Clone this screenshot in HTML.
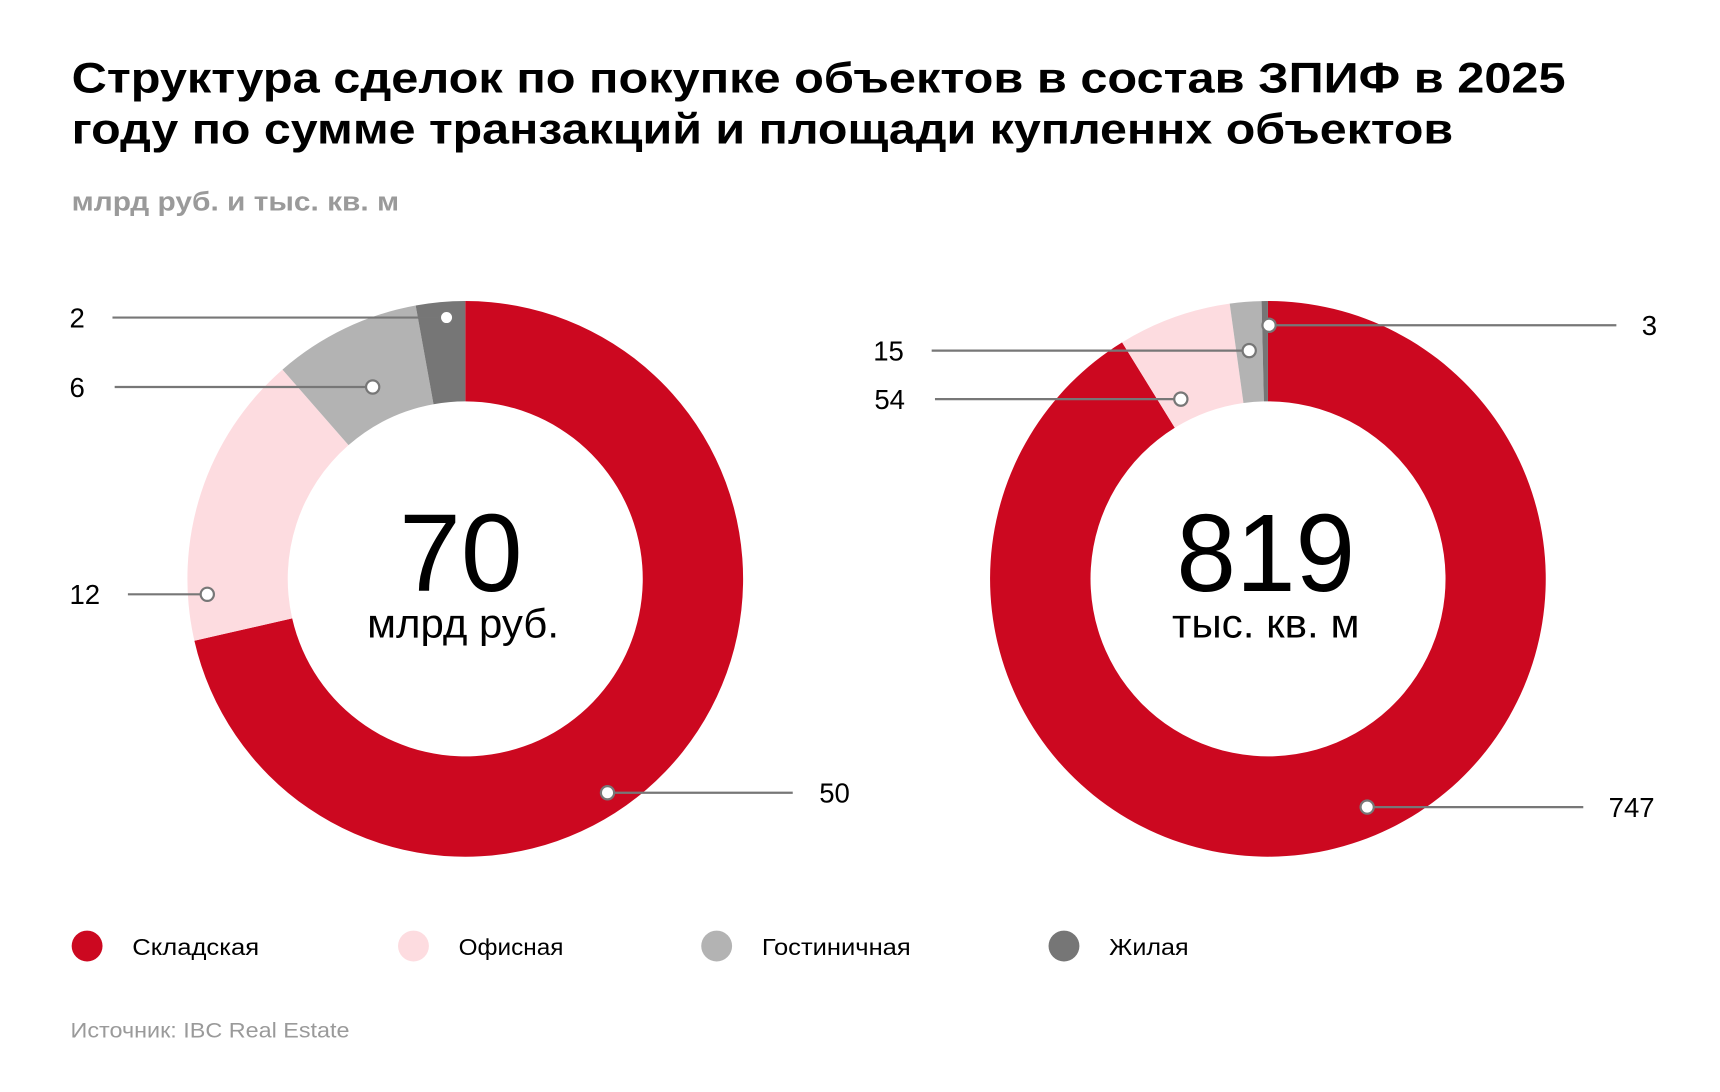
<!DOCTYPE html>
<html><head><meta charset="utf-8"><style>
html,body{margin:0;padding:0;background:#fff;}
svg{display:block;}
text{font-family:"Liberation Sans","Noto Sans CJK SC",sans-serif;}
</style></head><body>
<svg width="1720" height="1092" viewBox="0 0 1560 990.4" xmlns="http://www.w3.org/2000/svg">
<rect width="1560" height="990.4" fill="#fff"/>
<text x="65" y="84" font-size="39" font-weight="bold" fill="#000" textLength="1355" lengthAdjust="spacingAndGlyphs">Структура сделок по покупке объектов в состав ЗПИФ в 2025</text>
<text x="65" y="130" font-size="39" font-weight="bold" fill="#000" textLength="1253" lengthAdjust="spacingAndGlyphs">году по сумме транзакций и площади купленнх объектов</text>
<text x="65" y="191" font-size="24" font-weight="bold" fill="#9a9a9a" textLength="297" lengthAdjust="spacingAndGlyphs">млрд руб. и тыс. кв. м</text>

<path d="M422,273 A252,252 0 1 1 176.3,581.1 L265.0,560.8 A161,161 0 1 0 422,364 Z" fill="#CC0820"/>
<path d="M176.3,581.1 A252,252 0 0 1 256.2,335.2 L316.1,403.7 A161,161 0 0 0 265.0,560.8 Z" fill="#FDDCE0"/>
<path d="M256.2,335.2 A252,252 0 0 1 377.0,277.1 L393.2,366.6 A161,161 0 0 0 316.1,403.7 Z" fill="#B3B3B3"/>
<path d="M377.0,277.1 A252,252 0 0 1 422,273 L422,364 A161,161 0 0 0 393.2,366.6 Z" fill="#767676"/>

<path d="M1150,273 A252,252 0 1 1 1017.7,310.5 L1065.5,388.0 A161,161 0 1 0 1150,364 Z" fill="#CC0820"/>
<path d="M1017.7,310.5 A252,252 0 0 1 1115.3,275.4 L1127.8,365.5 A161,161 0 0 0 1065.5,388.0 Z" fill="#FDDCE0"/>
<path d="M1115.3,275.4 A252,252 0 0 1 1144.2,273.1 L1146.3,364.0 A161,161 0 0 0 1127.8,365.5 Z" fill="#B3B3B3"/>
<path d="M1144.2,273.1 A252,252 0 0 1 1150,273 L1150,364 A161,161 0 0 0 1146.3,364.0 Z" fill="#767676"/>

<g stroke="#777" stroke-width="2" fill="none">
<line x1="102" y1="288" x2="405" y2="288"/>
<line x1="104" y1="351" x2="338" y2="351"/>
<line x1="116" y1="539" x2="188" y2="539"/>
<line x1="551" y1="719" x2="719" y2="719"/>
<line x1="1151" y1="295" x2="1466" y2="295"/>
<line x1="845" y1="318" x2="1133" y2="318"/>
<line x1="848" y1="362" x2="1071" y2="362"/>
<line x1="1240" y1="732" x2="1436" y2="732"/>
</g>
<g fill="#fff" stroke="#777" stroke-width="2">
<circle cx="405" cy="288" r="6"/>
<circle cx="338" cy="351" r="6"/>
<circle cx="188" cy="539" r="6"/>
<circle cx="551" cy="719" r="6"/>
<circle cx="1151" cy="295" r="6"/>
<circle cx="1133" cy="318" r="6"/>
<circle cx="1071" cy="362" r="6"/>
<circle cx="1240" cy="732" r="6"/>
</g>
<g font-size="25" fill="#000">
<text x="63" y="297">2</text>
<text x="63" y="360">6</text>
<text x="63" y="548">12</text>
<text x="743" y="728">50</text>
<text x="1489" y="304">3</text>
<text x="792" y="327">15</text>
<text x="793" y="371">54</text>
<text x="1459" y="741">747</text>
</g>

<text x="418" y="536" font-size="100" text-anchor="middle" fill="#000" textLength="112" lengthAdjust="spacingAndGlyphs">70</text>
<text x="420" y="578" font-size="37" text-anchor="middle" fill="#000" textLength="174" lengthAdjust="spacingAndGlyphs">млрд руб.</text>
<text x="1148" y="536" font-size="100" text-anchor="middle" fill="#000" textLength="162" lengthAdjust="spacingAndGlyphs">819</text>
<text x="1148" y="578" font-size="37" text-anchor="middle" fill="#000" textLength="170" lengthAdjust="spacingAndGlyphs">тыс. кв. м</text>

<circle cx="79" cy="858" r="14" fill="#CC0820"/>
<circle cx="375" cy="858" r="14" fill="#FDDCE0"/>
<circle cx="650" cy="858" r="14" fill="#B3B3B3"/>
<circle cx="965" cy="858" r="14" fill="#767676"/>
<g font-size="21" fill="#000">
<text x="120" y="866" textLength="115" lengthAdjust="spacingAndGlyphs">Складская</text>
<text x="416" y="866" textLength="95" lengthAdjust="spacingAndGlyphs">Офисная</text>
<text x="691" y="866" textLength="135" lengthAdjust="spacingAndGlyphs">Гостиничная</text>
<text x="1006" y="866" textLength="72" lengthAdjust="spacingAndGlyphs">Жилая</text>
</g>
<text x="64" y="941" font-size="19" fill="#9a9a9a" textLength="253" lengthAdjust="spacingAndGlyphs">Источник: IBC Real Estate</text>
</svg>
</body></html>
